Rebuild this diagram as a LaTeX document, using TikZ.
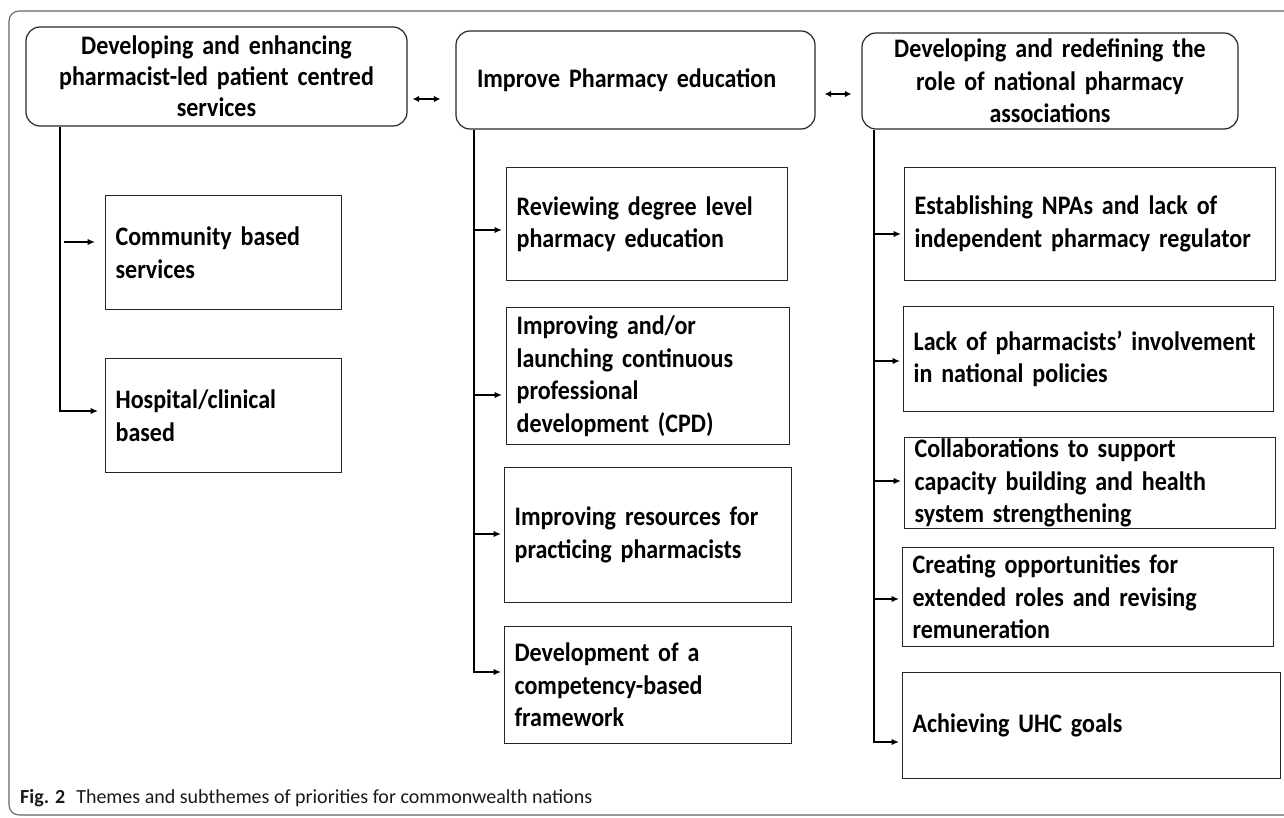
\documentclass[tikz,border=0pt]{standalone}
\usepackage{fontspec}
\setmainfont{Carlito}
\newfontfamily\boxfont{Carlito}[FakeStretch=0.9]
\usetikzlibrary{arrows.meta}
\newcommand{\bxfont}[1]{\boxfont\bfseries\fontsize{26.7}{#1}\selectfont\spaceskip=3.6pt plus 1pt minus 0.5pt\relax}
\begin{document}
\begin{tikzpicture}[x=1pt,y=-1pt,
  theme/.style={draw=black!85, line width=1.2pt, rounded corners=14pt,
    font=\bxfont{31}, align=center, inner sep=0pt},
  subbox/.style={draw=black!85, line width=1.2pt,
    font=\bxfont{32.5}, align=left,
    inner xsep=10pt, inner ysep=0pt, anchor=north west},
  link/.style={line width=1.4pt, -{Latex[length=7.5pt,width=6.5pt]}},
  both/.style={line width=1.4pt, {Latex[length=6.5pt,width=6.5pt]}-{Latex[length=6.5pt,width=6.5pt]}},
  frame/.style={draw=black!60, line width=1.1pt, rounded corners=10pt}]
\useasboundingbox (0,0) rectangle (1284,818);
\clip (0,0) rectangle (1284,818);
\draw[frame] (9,11) rectangle (1300,815);

% themes
\node[theme, minimum width=381pt, minimum height=99pt, text width=381pt] (t1) at (216.5,76.5)
  {Developing and enhancing\\pharmacist-led patient centred\\services};
\node[theme, minimum width=359pt, minimum height=98pt, text width=317pt, inner xsep=21pt, align=left] (t2) at (635.5,80)
  {Improve Pharmacy education};
\node[theme, font=\bxfont{32.5}, minimum width=376pt, minimum height=96pt, text width=376pt] (t3) at (1050,81)
  {Developing and redefining the\\role of national pharmacy\\associations};

% sub themes
\node[subbox, minimum width=236pt, minimum height=114pt, text width=216pt] (c1) at (105,195) {Community based\\services};
\node[subbox, minimum width=236pt, minimum height=114pt, text width=216pt] (c2) at (105,358) {Hospital/clinical\\based};

\node[subbox, minimum width=281pt, minimum height=113pt, text width=261pt] (m1) at (506,167) {Reviewing degree level\\pharmacy education};
\node[subbox, minimum width=283pt, minimum height=137pt, text width=263pt] (m2) at (506,307) {Improving and/or\\launching continuous\\professional\\development (CPD)};
\node[subbox, minimum width=287pt, minimum height=135pt, text width=267pt] (m3) at (504,467) {Improving resources for\\practicing pharmacists};
\node[subbox, minimum width=287pt, minimum height=117pt, text width=267pt] (m4) at (504,626) {Development of a\\competency-based\\framework};

\node[subbox, minimum width=371pt, minimum height=113pt, text width=351pt] (r1) at (904,167) {Establishing NPAs and lack of\\independent pharmacy regulator};
\node[subbox, minimum width=370pt, minimum height=105pt, text width=350pt] (r2) at (903,306) {Lack of pharmacists’ involvement\\in national policies};
\node[subbox, minimum width=371pt, minimum height=91pt, text width=351pt] (r3) at (904,437) {Collaborations to support\\capacity building and health\\system strengthening};
\node[subbox, minimum width=371pt, minimum height=99pt, text width=351pt] (r4) at (902,547) {Creating opportunities for\\extended roles and revising\\remuneration};
\node[subbox, minimum width=378pt, minimum height=106pt, text width=358pt] (r5) at (902,672) {Achieving UHC goals};

% double arrows between themes
\coordinate (d1) at (0,99);
\coordinate (d2) at (0,94);
\draw[both, shorten <=5pt, shorten >=15pt] (t1.east |- d1) -- (t2.west |- d1);
\draw[both, shorten <=9pt, shorten >=10pt] (t2.east |- d2) -- (t3.west |- d2);

% left column
\coordinate (jc1) at (60,242);
\coordinate (jc2) at (60,411);
\draw[link, shorten <=4pt, shorten >=10pt] (jc1) -- (jc1 -| c1.west);
\draw[link, shorten >=7pt] (t1.south -| jc1) |- (jc2 -| c2.west);

% middle column
\coordinate (jm1) at (474,230);
\coordinate (jm2) at (474,395);
\coordinate (jm3) at (474,534);
\coordinate (jm4) at (474,672);
\draw[link, shorten >=4pt] (jm1) -- (jm1 -| m1.west);
\draw[link, shorten >=4pt] (jm2) -- (jm2 -| m2.west);
\draw[link, shorten >=3pt] (jm3) -- (jm3 -| m3.west);
\draw[link, shorten >=3pt] (t2.south -| jm1) |- (jm4 -| m4.west);

% right column
\coordinate (jr1) at (874,234);
\coordinate (jr2) at (874,361);
\coordinate (jr3) at (874,481);
\coordinate (jr4) at (874,599);
\coordinate (jr5) at (874,742);
\draw[link, shorten >=3pt] (jr1) -- (jr1 -| r1.west);
\draw[link, shorten >=3pt] (jr2) -- (jr2 -| r2.west);
\draw[link, shorten >=3pt] (jr3) -- (jr3 -| r3.west);
\draw[link, shorten >=3pt] (jr4) -- (jr4 -| r4.west);
\draw[link, shorten >=3pt] (t3.south -| jr1) |- (jr5 -| r5.west);

% caption
\node[anchor=west, inner sep=0pt, text=black!90, font=\fontsize{20}{22}\selectfont] (cap) at (20,798)
  {\textbf{Fig. 2}\hspace{0.55em}Themes and subthemes of priorities for commonwealth nations};
\end{tikzpicture}
\end{document}
